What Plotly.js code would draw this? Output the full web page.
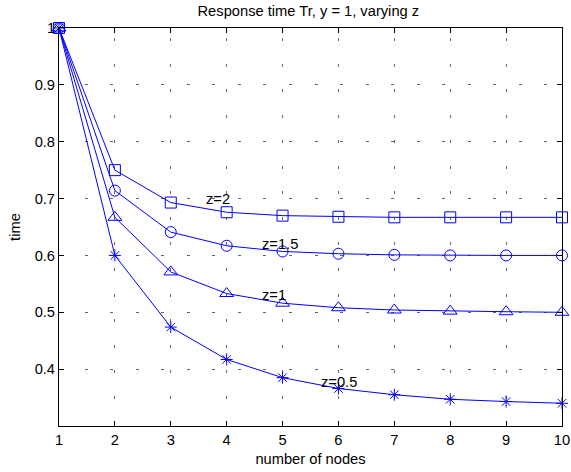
<!DOCTYPE html>
<html>
<head>
<meta charset="utf-8">
<script src="https://cdn.plot.ly/plotly-3.0.1.min.js"></script>
<style>html,body{margin:0;padding:0;background:#fff;}#chart{width:571px;height:472px;}</style>
</head>
<body>
<div id="chart"></div>
<script>
const nodes = [1, 2, 3, 4, 5, 6, 7, 8, 9, 10];
const z2   = [1, 0.750, 0.693, 0.676, 0.670, 0.668, 0.667, 0.667, 0.667, 0.667];
const z15  = [1, 0.714, 0.641, 0.617, 0.607, 0.603, 0.601, 0.600, 0.600, 0.600];
const z1   = [1, 0.667, 0.571, 0.533, 0.516, 0.508, 0.504, 0.502, 0.501, 0.500];
const z05  = [1, 0.600, 0.474, 0.417, 0.385, 0.366, 0.355, 0.347, 0.343, 0.340];
const labels = ["z=2", "z=1.5", "z=1", "z=0.5"];
const labelX = [3.6, 4.6, 4.6, 5.66];
const labelY = [0.70, 0.62, 0.53, 0.377];
const yTicks = [0.4, 0.5, 0.6, 0.7, 0.8, 0.9, 1.0];
const yTickText = ["0.4", "0.5", "0.6", "0.7", "0.8", "0.9", "1"];

const blue = "#0000ff";
function tr(y, sym, size) {
  return {x: nodes, y: y, type: "scatter", mode: "lines+markers",
    line: {color: blue, width: 1},
    marker: {symbol: sym, size: size, color: blue, line: {color: blue, width: 1}},
    showlegend: false, cliponaxis: false};
}
const data = [
  tr(z2, "square-open", 11),
  tr(z15, "circle-open", 11),
  tr(z1, "triangle-up-open", 12),
  tr(z05, "asterisk-open", 10)
];
const font = {family: "Liberation Sans, Arial, sans-serif", size: 14.7, color: "#000"};
const annotations = labels.map((t, i) => ({
  x: labelX[i], y: labelY[i], text: t, showarrow: false,
  xanchor: "left", yanchor: "middle", font: font
}));
const axisCommon = {
  showline: true, linecolor: "#000", linewidth: 1, mirror: "ticks",
  ticks: "inside", ticklen: 5, tickcolor: "#000",
  showgrid: true, gridcolor: "#666", gridwidth: 1,
  zeroline: false, tickfont: font
};
const layout = {
  width: 571, height: 472,
  margin: {l: 59, r: 9, t: 28, b: 46},
  paper_bgcolor: "#fff", plot_bgcolor: "#fff",
  font: font,
  title: {text: "Response time Tr, y = 1, varying z", font: font, x: 0.54, xanchor: "center", y: 0.978, yanchor: "middle"},
  xaxis: Object.assign({}, axisCommon, {
    range: [1, 10], tickvals: nodes, ticktext: nodes.map(String),
    griddash: "0px,10px,3px,12.55px",
    title: {text: "number of nodes", font: font, standoff: 7}
  }),
  yaxis: Object.assign({}, axisCommon, {
    range: [0.3, 1], tickvals: yTicks, ticktext: yTickText,
    griddash: "3px,22.55px",
    title: {text: "time", font: font, standoff: 10}
  }),
  annotations: annotations
};
Plotly.newPlot("chart", data, layout, {displayModeBar: false, staticPlot: true});
</script>
</body>
</html>
